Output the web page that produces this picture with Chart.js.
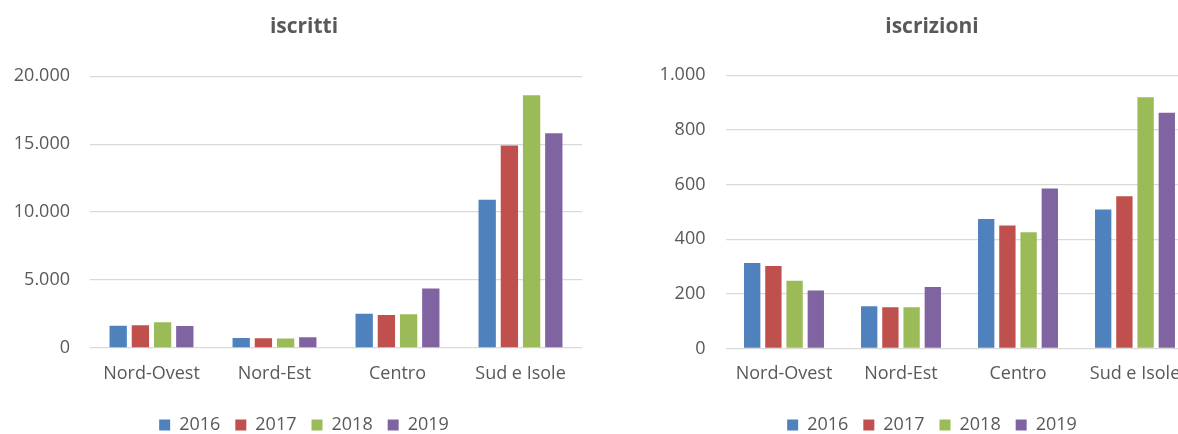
<!DOCTYPE html>
<html>
<head>
<meta charset="utf-8">
<script src="https://cdn.jsdelivr.net/npm/chart.js@4"></script>
<style>
    html, body { margin: 0; padding: 0; background: #fff; overflow: hidden; width: 1178px; height: 434px; }
    .box { position: absolute; top: 0; }
    #leftBox { left: 0; width: 608px; height: 444px; }
    #rightBox { left: 640px; width: 584px; height: 444px; }
</style>
</head>
<body>
<div class="box" id="leftBox"><canvas id="iscrittiChart" width="608" height="444"></canvas></div>
<div class="box" id="rightBox"><canvas id="iscrizioniChart" width="584" height="444"></canvas></div>
<script>
// --- Data ---
const regions = ['Nord-Ovest', 'Nord-Est', 'Centro', 'Sud e Isole'];
const years = ['2016', '2017', '2018', '2019'];
const yearColors = ['#4F81BD', '#C0504D', '#9BBB59', '#8064A2'];

// iscritti per anno (Nord-Ovest, Nord-Est, Centro, Sud e Isole)
const iscritti2016 = [1630, 740, 2520, 10900];
const iscritti2017 = [1680, 720, 2430, 14900];
const iscritti2018 = [1900, 700, 2480, 18600];
const iscritti2019 = [1610, 790, 4380, 15800];

// iscrizioni per anno
const iscrizioni2016 = [313, 155, 474, 509];
const iscrizioni2017 = [302, 151, 450, 557];
const iscrizioni2018 = [248, 151, 425, 919];
const iscrizioni2019 = [212, 225, 585, 863];

const textColor = '#595959';
const gridColor = '#d9d9d9';
const fontFamily = '"Open Sans", "Noto Sans", sans-serif';

// thousands with a dot, e.g. 20.000
function formatDots(value) {
    return String(value).replace(/\B(?=(\d{3})+(?!\d))/g, '.');
}

function buildDatasets(seriesList, barPct, catPct) {
    return seriesList.map((values, i) => ({
        label: years[i],
        data: values,
        backgroundColor: yearColors[i],
        borderWidth: 0,
        barPercentage: barPct,
        categoryPercentage: catPct
    }));
}

function makeChart(canvasId, cfg) {
    const ctx = document.getElementById(canvasId);
    if (!ctx) {
        console.error('Canvas not found: ' + canvasId);
        return;
    }
    new Chart(ctx, {
        type: 'bar',
        data: {
            labels: regions,
            datasets: buildDatasets(cfg.series, cfg.barPct, cfg.catPct)
        },
        options: {
            responsive: false,
            animation: false,
            layout: { padding: 0 },
            plugins: {
                title: {
                    display: true,
                    text: cfg.title,
                    color: textColor,
                    font: { family: fontFamily, size: 21, weight: 'bold' },
                    padding: { top: 14, bottom: cfg.titleBottom }
                },
                legend: {
                    position: 'bottom',
                    labels: {
                        color: textColor,
                        font: { family: fontFamily, size: 18 },
                        boxWidth: 11,
                        boxHeight: 11,
                        padding: 15
                    }
                },
                tooltip: { enabled: false }
            },
            scales: {
                x: {
                    grid: { display: false, drawTicks: false },
                    border: { display: false },
                    ticks: {
                        color: textColor,
                        font: { family: fontFamily, size: 18 },
                        padding: 15,
                        maxRotation: 0,
                        autoSkip: false
                    },
                    afterFit: function(scale) { scale.height = cfg.xHeight; }
                },
                y: {
                    min: 0,
                    max: cfg.max,
                    grid: { color: gridColor, lineWidth: 1.3, drawTicks: false },
                    border: { display: false },
                    ticks: {
                        stepSize: cfg.step,
                        color: textColor,
                        font: { family: fontFamily, size: 18 },
                        padding: 20,
                        callback: function(value) { return formatDots(value); }
                    },
                    afterFit: function(scale) { scale.width = cfg.yWidth; }
                },
                // empty right axis, only reserves room on the right side
                spacer: {
                    type: 'linear',
                    position: 'right',
                    grid: { display: false, drawTicks: false },
                    border: { display: false },
                    ticks: { display: false },
                    afterFit: function(scale) { scale.width = cfg.rightWidth; }
                }
            }
        }
    });
}

document.addEventListener('DOMContentLoaded', function() {
    makeChart('iscrittiChart', {
        title: 'iscritti',
        series: [iscritti2016, iscritti2017, iscritti2018, iscritti2019],
        max: 20000,
        step: 5000,
        yWidth: 90,
        rightWidth: 26,
        titleBottom: 37,
        xHeight: 53,
        barPct: 0.78,
        catPct: 0.722
    });

    makeChart('iscrizioniChart', {
        title: 'iscrizioni',
        series: [iscrizioni2016, iscrizioni2017, iscrizioni2018, iscrizioni2019],
        max: 1000,
        step: 200,
        yWidth: 85.5,
        rightWidth: 30.5,
        titleBottom: 36,
        xHeight: 52.5,
        barPct: 0.77,
        catPct: 0.725
    });
});
</script>
</body>
</html>
